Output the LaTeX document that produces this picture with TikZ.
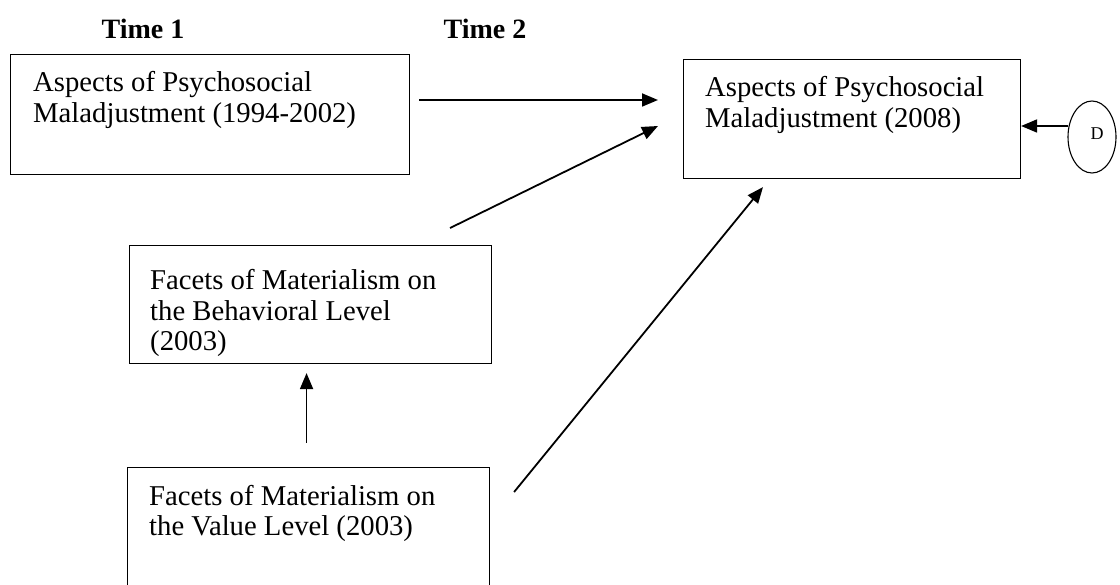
\documentclass[tikz,border=0pt]{standalone}
\usepackage{fontspec}
\setmainfont{Liberation Serif}
\usetikzlibrary{shapes.geometric,arrows.meta,calc}
\begin{document}
\begin{tikzpicture}[x=1pt,y=-1pt,
  box/.style={draw,line width=1.1pt,inner sep=0,anchor=north west},
  boxtext/.style={anchor=base west,inner sep=0,align=left,font=\fontsize{28.7}{30.5}\selectfont},
  head/.style={anchor=base,inner sep=0,font=\bfseries\fontsize{28}{28}\selectfont},
  arr/.style={line width=1.8pt,-{Triangle[length=16pt,width=13pt]}},
]
\clip (0,0) rectangle (1120,585);
\fill[white] (0,0) rectangle (1120,585);

% column headings
\node[head] (t1) at (143,39) {Time 1};
\node[head] (t2) at (485,39) {Time 2};

% boxes
\node[box,minimum width=399pt,minimum height=120pt] (A) at (10,54) {};
\node[box,minimum width=337pt,minimum height=119pt] (B) at (683,59) {};
\node[box,minimum width=362pt,minimum height=118pt] (C) at (129,245) {};
\node[box,minimum width=362pt,minimum height=140pt] (V) at (127,467) {};
\node[draw,ellipse,line width=1.1pt,minimum width=48pt,minimum height=72pt,inner sep=0] (E) at (1092,137) {};

% box labels (anchored at the baseline of their last line)
\node[boxtext] (Atext) at (33,122.5) {Aspects of Psychosocial\\Maladjustment (1994-2002)};
\node[boxtext] (Btext) at (705,127.5) {Aspects of Psychosocial\\Maladjustment (2008)};
\node[boxtext] (Ctext) at (150,351) {Facets of Materialism on\\the Behavioral Level\\(2003)};
\node[boxtext] (Vtext) at (149,535.5) {Facets of Materialism on\\the Value Level (2003)};
\node[inner sep=0,font=\fontsize{18}{18}\selectfont] (Etext) at (1097,134) {D};

% paths
\draw[arr] ($(A.north east)+(9,46)$) -- ($(B.north west)+(-25,41)$);
\draw[arr] ($(C.north east)+(-42,-17)$) -- ($(B.north west)+(-25,67)$);
\draw[arr] ($(V.north east)+(24,25)$) -- ($(B.south west)+(80,8)$);
\draw[arr] ($(V.north)+(-2,-24)$) -- ($(C.south)+(-4,9)$);
\coordinate (Dout) at ($(E.west)+(1,-11)$);
\draw[arr] (Dout) -- (Dout -| B.east);
\end{tikzpicture}
\end{document}
